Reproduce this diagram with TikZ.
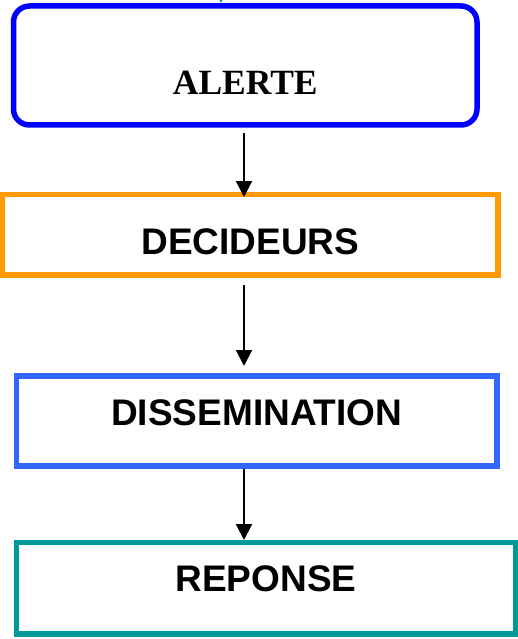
\documentclass[tikz,border=0pt]{standalone}
\usepackage{fontspec}
\setmainfont{Liberation Serif}
\setsansfont{Liberation Sans}
\usetikzlibrary{arrows.meta, positioning}

\definecolor{alertblue}{RGB}{0,0,255}
\definecolor{decorange}{RGB}{255,153,0}
\definecolor{dissblue}{RGB}{51,102,255}
\definecolor{repteal}{RGB}{0,153,153}

\begin{document}
\begin{tikzpicture}[
            x = 1pt, y = -1pt, % one unit per pixel, downwards
            > = {Triangle[length=16pt, width=16pt]}, % arrow head style
            line width = 2pt % line style
        ]

        \tikzstyle{stage}=[
            draw,
            line width = 5.5pt,
            inner sep = 0pt,
            outer sep = 0pt,
            align = center,
            font = \sffamily\bfseries\fontsize{37}{40}\selectfont
        ]

        \useasboundingbox (0,0) rectangle (518,639);

        \node[stage, draw=alertblue, rounded corners=16pt,
              font=\rmfamily\bfseries\fontsize{35.5}{38}\selectfont,
              text width=463.5pt, text height=89pt, text depth=30pt]
              (alerte) at (245.25,65.5) {ALERTE};
        \node[stage, draw=decorange, text width=495.3pt, text height=59.5pt, text depth=21pt]
              (decideurs) [below=69.5pt of alerte, xshift=5pt] {DECIDEURS};
        \node[stage, draw=dissblue, text width=480.5pt, text height=49pt, text depth=41pt]
              (dissemination) [below=101pt of decideurs, xshift=6.5pt] {DISSEMINATION};
        \node[stage, draw=repteal, text width=499pt, text height=49pt, text depth=42.5pt]
              (reponse) [below=76.5pt of dissemination, xshift=9.25pt] {REPONSE};

        \coordinate (axis) at (244,0);
        \coordinate (feed) at (221,-30);

        \draw[->, repteal, shorten >=3pt] (feed) -- (alerte.north -| feed);
        \draw[->, shorten <=8pt, shorten >=-2.5pt] (alerte.south -| axis) -- (decideurs.north -| axis);
        \draw[->, shorten <=10pt, shorten >=10pt] (decideurs.south -| axis) -- (dissemination.north -| axis);
        \draw[->, shorten <=3pt, shorten >=2.5pt] (dissemination.south -| axis) -- (reponse.north -| axis);

  \end{tikzpicture}
\end{document}
